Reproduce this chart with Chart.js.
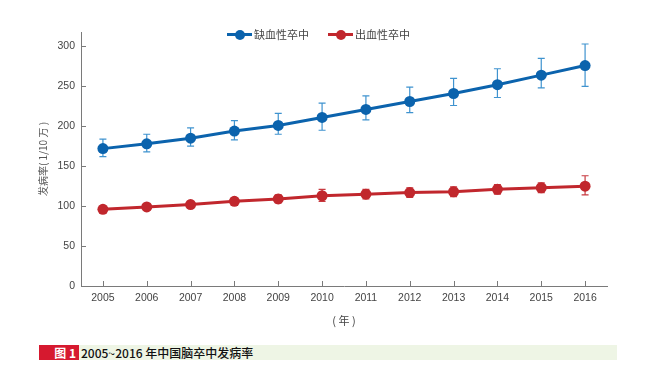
<!DOCTYPE html>
<html>
<head>
<meta charset="utf-8">
<script src="https://cdn.jsdelivr.net/npm/chart.js@4.4.1/dist/chart.umd.min.js"></script>
<style>
  body { margin: 0; background: #fff; font-family: "Noto Sans CJK SC", "Liberation Sans", sans-serif; }
  #wrap { position: relative; width: 654px; height: 378px; }
  #box { position: absolute; left: 0; top: 0; width: 654px; height: 340px; }
  .legend { position: absolute; top: 26px; font-size: 11px; color: #444; line-height: 16px; }
  .legend .glyph { position: absolute; top: 7px; width: 25px; height: 3px; }
  .legend .glyph i { position: absolute; left: 8px; top: -3.5px; width: 10px; height: 10px; border-radius: 50%; }
  .cap-red { position: absolute; left: 39px; top: 345px; width: 40px; height: 15px; background: #d6192f; color: #fff;
             font-size: 12px; font-weight: bold; text-align: right; line-height: 15px; box-sizing: border-box; padding-right: 3px; }
  .cap-band { position: absolute; left: 79px; top: 345px; width: 538px; height: 15px; background: #eef5e5; color: #111;
              font-size: 12px; font-weight: 500; line-height: 15px; padding-left: 2px; box-sizing: border-box; }
</style>
</head>
<body>
<div id="wrap">
  <div id="box"><canvas id="strokeChart"></canvas></div>
  <div class="legend" style="left:227px"><span class="glyph" style="background:#0b63ad"><i style="background:#0b63ad"></i></span><span style="margin-left:27px">缺血性卒中</span></div>
  <div class="legend" style="left:328px"><span class="glyph" style="background:#c1272d"><i style="background:#c1272d"></i></span><span style="margin-left:27px">出血性卒中</span></div>
  <div class="cap-red">图 1</div>
  <div class="cap-band">2005~2016 年中国脑卒中发病率</div>
</div>
<script>
const years = ["2005", "2006", "2007", "2008", "2009", "2010", "2011", "2012", "2013", "2014", "2015", "2016"];
const yTicks = [0, 50, 100, 150, 200, 250, 300];

// 缺血性卒中
const ischemic = [172, 178, 185, 194, 201, 211, 221, 231, 241, 252, 264, 276];
const ischemicLow = [162, 168, 175, 183, 190, 195, 208, 217, 226, 236, 248, 250];
const ischemicHigh = [184, 190, 198, 207, 216, 229, 238, 249, 260, 272, 285, 303];

// 出血性卒中
const hemorrhagic = [96, 99, 102, 106, 109, 113, 115, 117, 118, 121, 123, 125];
const hemorrhagicLow = [92, 95, 98, 101, 104, 106, 109, 111, 112, 115, 117, 114];
const hemorrhagicHigh = [100, 103, 106, 110, 114, 121, 121, 123, 124, 127, 129, 138];

const errorBars = [
    {low: ischemicLow, high: ischemicHigh, color: "#3f93cf"},
    {low: hemorrhagicLow, high: hemorrhagicHigh, color: "#c83a40"}
];

// error bars under the markers
const errorBarPlugin = {
    id: "errorBars",
    beforeDatasetsDraw(chart) {
        const ctx = chart.ctx;
        const xs = chart.scales.x, ys = chart.scales.y;
        ctx.save();
        ctx.lineWidth = 1.2;
        errorBars.forEach(eb => {
            ctx.strokeStyle = eb.color;
            for (let i = 0; i < years.length; i++) {
                const x = xs.getPixelForValue(i);
                const y1 = ys.getPixelForValue(eb.low[i]);
                const y2 = ys.getPixelForValue(eb.high[i]);
                ctx.beginPath();
                ctx.moveTo(x, y1); ctx.lineTo(x, y2);
                ctx.moveTo(x - 3.5, y1); ctx.lineTo(x + 3.5, y1);
                ctx.moveTo(x - 3.5, y2); ctx.lineTo(x + 3.5, y2);
                ctx.stroke();
            }
        });
        ctx.restore();
    }
};

// tick marks pointing into the plot
const innerTicks = {
    id: "innerTicks",
    afterDraw(chart) {
        const ctx = chart.ctx;
        const a = chart.chartArea;
        const xs = chart.scales.x, ys = chart.scales.y;
        ctx.save();
        ctx.strokeStyle = "#7a7a7a";
        ctx.lineWidth = 1;
        ctx.beginPath();
        yTicks.forEach(v => {
            const y = Math.round(ys.getPixelForValue(v)) + 0.5;
            ctx.moveTo(a.left, y); ctx.lineTo(a.left + 5, y);
        });
        years.forEach((_, i) => {
            const x = Math.round(xs.getPixelForValue(i)) + 0.5;
            ctx.moveTo(x, a.bottom); ctx.lineTo(x, a.bottom - 5);
        });
        ctx.stroke();
        ctx.restore();
    }
};

const tickFont = {family: "'Liberation Sans', sans-serif", size: 10.5};

new Chart(document.getElementById("strokeChart"), {
    type: "line",
    data: {
        labels: years,
        datasets: [
            {
                label: "缺血性卒中",
                data: ischemic,
                borderColor: "#0b63ad",
                backgroundColor: "#0b63ad",
                borderWidth: 3,
                pointRadius: 5.5,
                pointBorderWidth: 0,
                tension: 0
            },
            {
                label: "出血性卒中",
                data: hemorrhagic,
                borderColor: "#c1272d",
                backgroundColor: "#c1272d",
                borderWidth: 3,
                pointRadius: 5.5,
                pointBorderWidth: 0,
                tension: 0
            }
        ]
    },
    options: {
        responsive: true,
        maintainAspectRatio: false,
        animation: false,
        layout: {padding: {left: 37, right: 47, top: 32, bottom: 13}},
        plugins: {legend: {display: false}, tooltip: {enabled: false}},
        scales: {
            x: {
                offset: true,
                grid: {display: false, drawTicks: false},
                border: {color: "#7a7a7a", width: 1},
                ticks: {color: "#444", font: tickFont, padding: 6, maxRotation: 0, autoSkip: false},
                title: {display: true, text: "( 年 )", color: "#444",
                        font: {family: "'Noto Sans CJK SC', sans-serif", size: 11}, padding: {top: 8, bottom: 0}},
                afterFit: s => { s.height = 41; }
            },
            y: {
                min: 0,
                max: 318,
                grid: {display: false, drawTicks: false},
                border: {color: "#7a7a7a", width: 1},
                ticks: {stepSize: 50, includeBounds: false, color: "#444", font: tickFont, padding: 6},
                title: {display: true, text: "发病率( 1/10 万 )", color: "#555",
                        font: {family: "'Noto Sans CJK SC', sans-serif", size: 10}, padding: 0},
                afterFit: s => { s.width = 44; }
            }
        }
    },
    plugins: [errorBarPlugin, innerTicks]
});
</script>
</body>
</html>
